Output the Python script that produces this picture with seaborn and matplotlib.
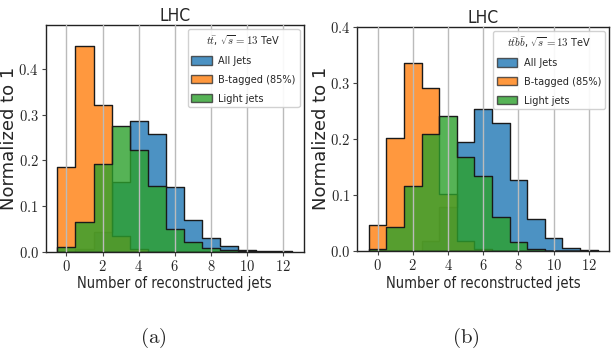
import numpy as np
import pandas as pd
import matplotlib
matplotlib.use("Agg")
import matplotlib.pyplot as plt
from matplotlib.patches import Patch
from matplotlib.font_manager import FontProperties, fontManager
import seaborn as sns

# ---- data ----
n_jets = list(range(13))
# panel (a): ttbar
a_all   = [0.0, 0.005, 0.044, 0.152, 0.286, 0.258, 0.141, 0.069, 0.029, 0.013, 0.004, 0.001, 0.0005]
a_btag  = [0.186, 0.451, 0.321, 0.035, 0.005, 0.0, 0.0, 0.0, 0.0, 0.0, 0.0, 0.0, 0.0]
a_light = [0.011, 0.065, 0.193, 0.275, 0.223, 0.143, 0.050, 0.021, 0.009, 0.004, 0.001, 0.0, 0.0]
# panel (b): ttbb
b_all   = [0.0, 0.0, 0.0, 0.018, 0.078, 0.195, 0.253, 0.228, 0.127, 0.057, 0.024, 0.005, 0.001]
b_btag  = [0.046, 0.201, 0.335, 0.291, 0.102, 0.018, 0.003, 0.0, 0.0, 0.0, 0.0, 0.0, 0.0]
b_light = [0.003, 0.042, 0.116, 0.208, 0.240, 0.168, 0.134, 0.060, 0.016, 0.003, 0.0, 0.0, 0.0]

series_names = ["All Jets", "B-tagged (85%)", "Light jets"]
legend_labels = ["All Jets", "B-tagged (85%)", "Light jets"]
titles = ["LHC", "LHC"]
legend_titles = [r"$t\bar{t}$, $\sqrt{s} = 13$ TeV", r"$t\bar{t}b\bar{b}$, $\sqrt{s} = 13$ TeV"]
xticks = [0, 2, 4, 6, 8, 10, 12]
yticks = [0.0, 0.1, 0.2, 0.3, 0.4]
subcaptions = ["(a)", "(b)"]
colors = ["#1f77b4", "#ff7f0e", "#2ca02c"]

sns.set_style("whitegrid")
plt.rcParams["mathtext.fontset"] = "cm"
plt.rcParams["font.family"] = ["DejaVu Sans"]

_cond_path = None
for f in fontManager.ttflist:
    if f.fname.endswith("DejaVuSansCondensed.ttf"):
        _cond_path = f.fname
        break

def cond(size):
    if _cond_path:
        return FontProperties(fname=_cond_path, size=size)
    return FontProperties(family="DejaVu Sans", stretch="condensed", size=size)

fig = plt.figure(figsize=(6.14, 3.56), dpi=100)
ax_a = fig.add_axes([0.0744, 0.293, 0.4206, 0.637])
ax_b = fig.add_axes([0.582, 0.295, 0.410, 0.630])

panels = [(ax_a, [a_all, a_btag, a_light], 0.497),
          (ax_b, [b_all, b_btag, b_light], 0.40)]
caption_x = [0.249, 0.759]

for i, (ax, vals, ytop) in enumerate(panels):
    for name, v, c in zip(series_names, vals, colors):
        df = pd.DataFrame({"jets": n_jets, "w": v})
        sns.histplot(data=df, x="jets", weights="w", discrete=True, element="step",
                     fill=True, color=c, alpha=0.8, edgecolor="#1a1a1a",
                     linewidth=1.0, ax=ax)
    ax.set_xlim(-1.15, 13.15)
    ax.set_ylim(0, ytop)
    ax.set_xticks(xticks)
    ax.set_xticklabels([f"${t}$" for t in xticks], fontsize=10.5)
    ax.set_yticks(yticks)
    ax.set_yticklabels([f"${t:.1f}$" for t in yticks], fontsize=10.5)
    ax.grid(axis="y", visible=False)
    ax.grid(axis="x", color="#bbbbbb", linewidth=1.0)
    ax.set_axisbelow(False)
    for sp in ax.spines.values():
        sp.set_color("#222222")
        sp.set_linewidth(1.0)
    ax.tick_params(axis="both", which="major", length=3, width=0.8, color="#444444",
                   bottom=True, left=True, pad=2)
    ax.set_title(titles[i], fontproperties=cond(12.5), pad=3)
    ax.set_xlabel("Number of reconstructed jets", fontproperties=cond(10.5), labelpad=2)
    ax.set_ylabel("Normalized to 1", fontsize=13, labelpad=0)
    handles = [Patch(facecolor=c, edgecolor="#333333", alpha=0.8) for c in colors]
    leg = ax.legend(handles, legend_labels, title=legend_titles[i], loc="upper right",
                    prop=cond(7.8), title_fontproperties=cond(7.8), frameon=True,
                    framealpha=0.9, handlelength=1.9, handleheight=0.8,
                    handletextpad=0.6, borderpad=0.35, labelspacing=0.8,
                    borderaxespad=0.4)
    leg.get_frame().set_edgecolor("#cccccc")
    fig.text(caption_x[i], 0.05, r"$\mathrm{" + subcaptions[i] + "}$",
             ha="center", va="center", fontsize=15)

fig.savefig("out.png", dpi=100)
